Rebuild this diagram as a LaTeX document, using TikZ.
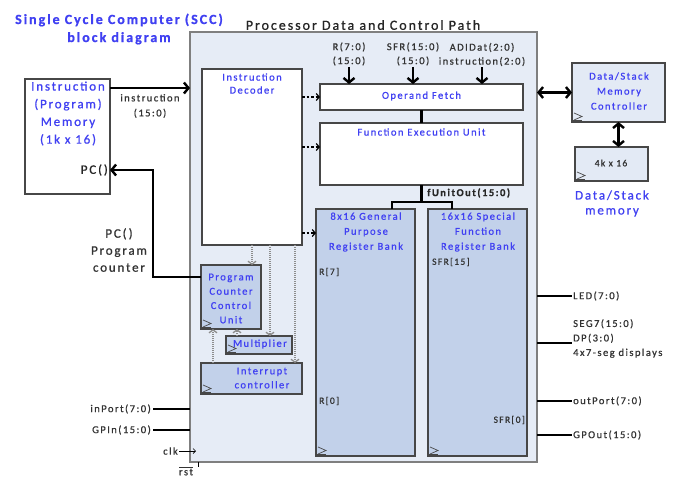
\documentclass[tikz,border=0pt]{standalone}
\usepackage{fontspec}
\setmainfont{Carlito}[LetterSpace=14,FakeBold=0.8]
\usetikzlibrary{arrows.meta}

\definecolor{procfill}{HTML}{E6ECF6}
\definecolor{regfill}{HTML}{C2D1EA}
\definecolor{lightbox}{HTML}{E3EAF5}
\definecolor{procedge}{HTML}{7F7F7F}
\definecolor{boxedge}{HTML}{474747}
\definecolor{ink}{HTML}{4040F2}
\definecolor{labelink}{HTML}{333333}
\definecolor{dotink}{HTML}{8C8C8C}

\newcommand\szBig{\fontsize{13}{17.5}\selectfont}
\newcommand\szBox{\fontsize{10.5}{14.5}\selectfont}
\newcommand\szSmall{\fontsize{9.5}{12}\selectfont}

% small clock-input mark at the lower left corner of a block
\newcommand\clocktri[1]{%
  \draw[boxedge, line width=0.7pt] (#1.south west) ++(2,-9) -- ++(8,3.5) -- ++(-8,3.5);
  \draw[boxedge, line width=0.7pt] (#1.south west) ++(1,-1.5) -- ++(9,0);}

\begin{document}
\begin{tikzpicture}[x=1pt, y=-1pt,
  procbox/.style={draw=procedge, fill=procfill, line width=1.6pt, inner sep=0pt, outer sep=0pt, anchor=north west},
  whitebox/.style={draw=boxedge, fill=white, line width=1.3pt, inner sep=0pt, outer sep=0pt, anchor=north west},
  regbox/.style={whitebox, fill=regfill},
  lightbx/.style={whitebox, fill=lightbox},
  bluetxt/.style={inner sep=0pt, align=center, text=ink, font=\szBox},
  lbl/.style={inner sep=0pt, align=center, text=labelink, font=\szBox},
  bigblue/.style={inner sep=0pt, align=center, text=ink, font=\szBig},
  biglbl/.style={inner sep=0pt, align=center, text=labelink, font=\szBig},
  reglbl/.style={inner sep=0pt, text=labelink, font=\szSmall},
  bus/.style={line width=2.4pt},
  heavy/.style={bus, -{Straight Barb[length=4.5pt,width=11pt]}},
  twoway/.style={bus, {Straight Barb[length=4.5pt,width=11pt]}-{Straight Barb[length=4.5pt,width=11pt]}},
  ctrl/.style={line width=1.2pt, dash pattern=on 2.5pt off 2pt, -{Straight Barb[length=3pt,width=7pt]}},
  dotlink/.style={draw=dotink, line width=1.3pt, dash pattern=on 1pt off 1pt, -{Straight Barb[length=3pt,width=8pt]}},
]
\fill[white] (0,0) rectangle (675,477);
\useasboundingbox (0,0) rectangle (675,477);

% titles
\node[inner sep=0pt, text=ink, font=\fontsize{14}{18}\bfseries\selectfont, align=center] (title) at (119,29) {Single Cycle Computer (SCC)\\block diagram};
\node[inner sep=0pt, text=black!85, font=\fontsize{14}{17}\selectfont] (proctitle) at (363,25) {Processor Data and Control Path};

% processor frame
\node[procbox, minimum width=347pt, minimum height=430pt] (proc) at (190,32) {};

% instruction memory
\node[whitebox, minimum width=85pt, minimum height=115pt] (imem) at (25,79) {};
\node[bigblue, font=\fontsize{13}{17.7}\selectfont] (imemtxt) at (68,113.5) {Instruction\\(Program)\\Memory\\(1k x 16)};
\node[biglbl, anchor=east, text=black!85] (pcport) at (108,170) {PC()};
\node[lbl, font=\fontsize{10.5}{15}\selectfont] (instrlbl) at (150,106) {instruction\\(15:0)};
\node[biglbl, font=\fontsize{13}{17}\selectfont] (pclbl) at (119,250) {PC(\,)\\Program\\counter};

% decoder, operand fetch, execution unit
\node[whitebox, minimum width=100pt, minimum height=176pt] (dec) at (202,69) {};
\node[bluetxt, font=\fontsize{10.5}{13}\selectfont] (dectxt) at (252,83.5) {Instruction\\Decoder};
\node[whitebox, minimum width=203pt, minimum height=26pt] (opf) at (320,84) {};
\node[bluetxt] (opftxt) at (421.5,96) {Operand Fetch};
\node[whitebox, minimum width=203pt, minimum height=62pt] (feu) at (320,123) {};
\node[bluetxt] (feutxt) at (421.5,132) {Function Execution Unit};

\node[lbl, font=\fontsize{10.5}{14}\selectfont] (rsrc) at (349,54) {R(7:0)\\(15:0)};
\node[lbl, font=\fontsize{10.5}{14}\selectfont] (sfrsrc) at (413,54) {SFR(15:0)\\(15:0)};
\node[lbl, font=\fontsize{10.5}{14}\selectfont] (adsrc) at (482,54.5) {ADIDat(2:0)\\instruction(2:0)};

% register banks
\node[regbox, minimum width=99pt, minimum height=247pt] (gpr) at (316,209) {};
\node[bluetxt, font=\fontsize{10.5}{15}\selectfont] (gprtxt) at (366,232) {8x16 General\\Purpose\\Register Bank};
\node[regbox, minimum width=99pt, minimum height=247pt] (sfr) at (428,209) {};
\node[bluetxt, font=\fontsize{10.5}{15}\selectfont] (sfrtxt) at (478,232) {16x16 Special\\Function\\Register Bank};
\node[reglbl, anchor=west] (r7) at (319,272) {R[7]};
\node[reglbl, anchor=west] (r0) at (319,401) {R[0]};
\node[reglbl, anchor=west] (s15) at (432,262) {SFR[15]};
\node[reglbl, anchor=east] (s0) at (525,420) {SFR[0]};
\node[lbl, anchor=west, font=\szBox\bfseries, text=black!85] (fuo) at (427,193) {fUnitOut(15:0)};

% control blocks
\node[regbox, minimum width=60pt, minimum height=64pt] (pccu) at (201,265) {};
\node[bluetxt, font=\fontsize{10.5}{14.3}\selectfont] (pcctxt) at (231,298.5) {Program\\Counter\\Control\\Unit};
\node[regbox, minimum width=66pt, minimum height=18pt] (mul) at (226,336) {};
\node[bluetxt] (multxt) at (260,344) {Multiplier};
\node[regbox, minimum width=101pt, minimum height=31pt] (intc) at (201,363) {};
\node[bluetxt, font=\fontsize{10.5}{14}\selectfont] (inttxt) at (262,378) {Interrupt\\controller};

% data / stack memory
\node[lightbx, minimum width=93pt, minimum height=59pt] (dsmc) at (572,63) {};
\node[bluetxt, font=\fontsize{10.5}{15}\selectfont] (dsmctxt) at (619,91) {Data/Stack\\Memory\\Controller};
\node[lightbx, minimum width=73pt, minimum height=34pt] (mem4k) at (575,147) {};
\node[reglbl] (m4txt) at (611,163) {4k x 16};
\node[bigblue, font=\fontsize{13}{15}\selectfont] (dsmem) at (612,203.5) {Data/Stack\\memory};

% external ports
\node[lbl, anchor=east] (inp) at (151,409) {inPort(7:0)};
\node[lbl, anchor=east] (gpin) at (151,430) {GPIn(15:0)};
\node[lbl, anchor=east] (clk) at (178,451) {clk};
\node[lbl] (rst) at (186,471) {$\overline{\mbox{rst}}$};
\node[lbl, anchor=west] (led) at (573,296) {LED(7:0)};
\node[lbl, anchor=west, align=left, font=\fontsize{10.5}{14.5}\selectfont] (seg) at (573,338.5) {SEG7(15:0)\\DP(3:0)\\4x7-seg displays};
\node[lbl, anchor=west] (outp) at (573,401) {outPort(7:0)};
\node[lbl, anchor=west] (gpout) at (573,435) {GPOut(15:0)};

% instruction bus and program counter
\coordinate (instrOut) at ([yshift=-9pt]imem.north east);
\draw[heavy] (instrOut) -- (instrOut -| proc.west);
\coordinate (pcOut) at ([yshift=-12pt]pccu.north west);
\draw[heavy] (pcOut) -- ++(-48,0) |- (imem.east |- pcport.east);

% decoder control lines
\draw[ctrl] (dec.east |- opf.west) -- (opf.west);
\coordinate (feuIn) at ([yshift=-24pt]feu.north west);
\draw[ctrl] (dec.east |- feuIn) -- (feuIn);
\coordinate (gprIn) at ([yshift=-24pt]gpr.north west);
\draw[ctrl] (dec.east |- gprIn) -- (gprIn);

\coordinate (pcIn) at ([xshift=-9pt]pccu.north east);
\draw[dotlink] (dec.south -| pcIn) -- (pcIn);
\coordinate (mulIn) at ([xshift=44pt]mul.north west);
\draw[dotlink] (dec.south -| mulIn) -- (mulIn);
\coordinate (intIn) at ([xshift=-7pt]intc.north east);
\draw[dotlink] (dec.south -| intIn) -- (intIn);
\coordinate (pcFromInt) at ([xshift=12pt]pccu.south west);
\draw[dotlink] (pcFromInt |- intc.north) -- (pcFromInt);
\coordinate (pcFromMul) at ([xshift=11pt]mul.north west);
\draw[dotlink] (pcFromMul) -- (pcFromMul |- pccu.south);

% operand inputs
\draw[heavy, shorten <=1pt] (rsrc.south) -- (rsrc.south |- opf.north);
\draw[heavy, shorten <=1pt] (sfrsrc.south) -- (sfrsrc.south |- opf.north);
\draw[heavy, shorten <=1pt] (adsrc.south) -- (adsrc.south |- opf.north);

% data path
\draw[bus] (opf.south) -- (feu.north);
\draw[bus] (feu.south) -- ++(0,17) coordinate (fuJoin);
\coordinate (gprTop) at ([xshift=-23pt]gpr.north east);
\coordinate (sfrTop) at ([xshift=24pt]sfr.north west);
\draw[bus] (gprTop) |- (fuJoin) -| (sfrTop);

% memory side
\draw[twoway] (proc.east |- dsmc.west) -- (dsmc.west);
\draw[twoway] (dsmc.south) -- (dsmc.south |- mem4k.north);

% port wires
\draw[bus] ([xshift=2pt]inp.east) -- (inp.east -| proc.west);
\draw[bus] ([xshift=2pt]gpin.east) -- (gpin.east -| proc.west);
\draw[line width=0.7pt, -{Straight Barb[length=2.5pt,width=5pt]}] ([xshift=1pt]clk.east) -- ([xshift=6pt]clk.east -| proc.west);
\coordinate (rstTick) at ([xshift=8pt]proc.south west);
\draw[line width=0.7pt] (rstTick) -- ++(0,5);
\draw[bus] (proc.east |- led.west) -- ([xshift=-1pt]led.west);
\coordinate (segIn) at ([yshift=-4.5pt]seg.west);
\draw[bus] (proc.east |- segIn) -- ([xshift=-1pt]segIn);
\draw[bus] (proc.east |- outp.west) -- ([xshift=-1pt]outp.west);
\draw[bus] (proc.east |- gpout.west) -- ([xshift=-1pt]gpout.west);

% clock marks
\clocktri{pccu}
\clocktri{mul}
\clocktri{intc}
\clocktri{gpr}
\clocktri{sfr}
\clocktri{dsmc}
\clocktri{mem4k}
\end{tikzpicture}
\end{document}
